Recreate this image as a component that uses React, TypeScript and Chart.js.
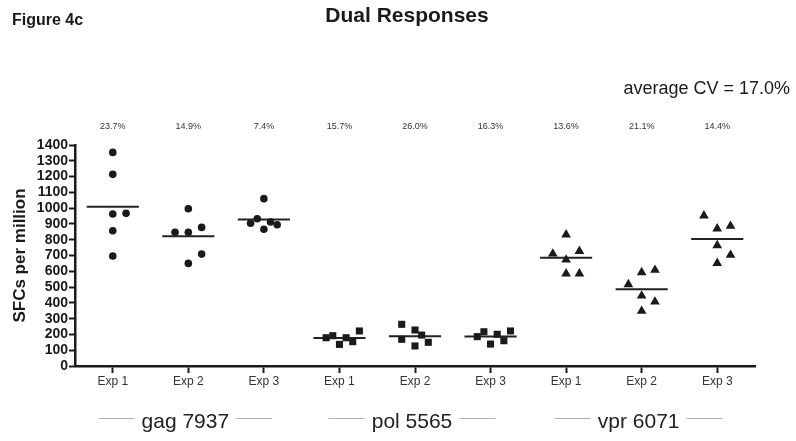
import { useEffect, useRef } from 'react';
import { Chart, registerables } from 'chart.js';

Chart.register(...registerables);

// ---- data ----
const expLabels = ['Exp 1', 'Exp 2', 'Exp 3', 'Exp 1', 'Exp 2', 'Exp 3', 'Exp 1', 'Exp 2', 'Exp 3'];
const cvLabels = ['23.7%', '14.9%', '7.4%', '15.7%', '26.0%', '16.3%', '13.6%', '21.1%', '14.4%'];
const groupNames = ['gag 7937', 'pol 5565', 'vpr 6071'];
const averageCVText = 'average CV = 17.0%';
const figureLabel = 'Figure 4c';
const chartTitle = 'Dual Responses';
const yAxisTitle = 'SFCs per million';

// SFC values per column (6 replicates each)
const gagExp1 = [1353, 1214, 963, 967, 857, 697];
const gagExp2 = [996, 847, 847, 878, 709, 650];
const gagExp3 = [1060, 904, 933, 912, 895, 866];
const polExp1 = [179, 192, 137, 179, 154, 222];
const polExp2 = [264, 169, 228, 196, 150, 127];
const polExp3 = [186, 217, 139, 201, 160, 222];
const vprExp1 = [832, 711, 728, 673, 585, 585];
const vprExp2 = [517, 593, 608, 445, 407, 348];
const vprExp3 = [952, 870, 887, 764, 703, 652];

// horizontal scatter slots of each point within its column
const gagSlots1 = [0, 0, 0, 2, 0, 0];
const gagSlots2 = [0, -2, 0, 2, 2, 0];
const gagSlots3 = [0, -2, -1, 1, 2, 0];
const polSlots1 = [-2, -1, 0, 1, 2, 3];
const polSlots2 = [-2, -2, 0, 1, 2, 0];
const polSlots3 = [-2, -1, 0, 1, 2, 3];
const vprSlots1 = [0, -2, 2, 0, 0, 2];
const vprSlots2 = [-2, 0, 2, 0, 2, 0];
const vprSlots3 = [-2, 0, 2, 0, 2, 0];

// ---- styling constants ----
const SLOT = 0.088; // column units per scatter slot
const MEAN_HALF = 0.345; // half width of mean bar in column units
const FONT = '"Liberation Sans", Arial, sans-serif';
const INK = '#1a1a1a';

const columns = [gagExp1, gagExp2, gagExp3, polExp1, polExp2, polExp3, vprExp1, vprExp2, vprExp3];
const slots = [gagSlots1, gagSlots2, gagSlots3, polSlots1, polSlots2, polSlots3, vprSlots1, vprSlots2, vprSlots3];

function pointsFor(colIdx: number[]) {
  const out: { x: number; y: number }[] = [];
  colIdx.forEach((c) => {
    columns[c].forEach((v, k) => out.push({ x: c + slots[c][k] * SLOT, y: v }));
  });
  return out;
}

function meanLineData() {
  const out: { x: number; y: number | null }[] = [];
  columns.forEach((vals, c) => {
    const m = vals.reduce((a, b) => a + b, 0) / vals.length;
    out.push({ x: c - MEAN_HALF, y: m }, { x: c + MEAN_HALF, y: m }, { x: c + 0.5, y: null });
  });
  return out;
}

const textPlugin = {
  id: 'figureTexts',
  afterDraw(chart: any) {
    const ctx = chart.ctx as CanvasRenderingContext2D;
    const xs = chart.scales.x;
    ctx.save();
    ctx.fillStyle = INK;
    ctx.textBaseline = 'alphabetic';

    ctx.font = `bold 16px ${FONT}`;
    ctx.textAlign = 'left';
    ctx.fillText(figureLabel, 12, 25);

    ctx.font = `bold 21px ${FONT}`;
    ctx.textAlign = 'center';
    ctx.fillText(chartTitle, 407, 22);

    ctx.font = `18px ${FONT}`;
    ctx.textAlign = 'right';
    ctx.fillText(averageCVText, 790, 94);

    ctx.font = `9px ${FONT}`;
    ctx.textAlign = 'center';
    ctx.fillStyle = '#333';
    cvLabels.forEach((t, i) => ctx.fillText(t, xs.getPixelForValue(i), 129));

    ctx.font = `21px ${FONT}`;
    groupNames.forEach((name, g) => {
      const cx = xs.getPixelForValue(g * 3 + 1) - 3;
      const w = ctx.measureText(name).width;
      ctx.fillStyle = '#222';
      ctx.textAlign = 'center';
      ctx.fillText(name, cx, 428);
      ctx.strokeStyle = '#b0b0b0';
      ctx.lineWidth = 1;
      ctx.beginPath();
      ctx.moveTo(cx - w / 2 - 43, 418.5);
      ctx.lineTo(cx - w / 2 - 7, 418.5);
      ctx.moveTo(cx + w / 2 + 7, 418.5);
      ctx.lineTo(cx + w / 2 + 43, 418.5);
      ctx.stroke();
    });
    ctx.restore();
  },
};

export default function App() {
  const ref = useRef<HTMLCanvasElement | null>(null);

  useEffect(() => {
    if (!ref.current) return;
    const chart = new Chart(ref.current, {
      type: 'scatter',
      data: {
        datasets: [
          {
            label: 'gag',
            data: pointsFor([0, 1, 2]),
            pointStyle: 'circle',
            pointRadius: 3.8,
            backgroundColor: INK,
            borderColor: INK,
            borderWidth: 0,
          },
          {
            label: 'pol',
            data: pointsFor([3, 4, 5]),
            pointStyle: 'rect',
            pointRadius: 5,
            backgroundColor: INK,
            borderColor: INK,
            borderWidth: 0,
          },
          {
            label: 'vpr',
            data: pointsFor([6, 7, 8]),
            pointStyle: 'triangle',
            pointRadius: 5.6,
            backgroundColor: INK,
            borderColor: INK,
            borderWidth: 0,
          },
          {
            label: 'mean',
            data: meanLineData(),
            showLine: true,
            spanGaps: false,
            pointRadius: 0,
            borderColor: '#222',
            borderWidth: 2,
          } as any,
        ],
      },
      options: {
        responsive: false,
        animation: false,
        devicePixelRatio: 1,
        layout: { padding: { top: 145, right: 41, bottom: 0, left: 0 } },
        plugins: {
          legend: { display: false },
          tooltip: { enabled: false },
          title: { display: false },
        },
        scales: {
          x: {
            type: 'linear',
            min: -0.5,
            max: 8.5,
            afterBuildTicks: (scale: any) => {
              scale.ticks = expLabels.map((_, i) => ({ value: i }));
            },
            afterFit: (scale: any) => {
              scale.height = 75;
            },
            ticks: {
              autoSkip: false,
              maxRotation: 0,
              padding: 1,
              color: '#333',
              font: { family: FONT, size: 12 },
              callback: (v: any) => expLabels[Math.round(Number(v))] ?? '',
            },
            grid: {
              display: true,
              drawOnChartArea: false,
              drawTicks: true,
              tickLength: 7,
              tickWidth: 2,
              tickColor: INK,
            },
            border: { display: true, width: 2.5, color: INK },
          },
          y: {
            type: 'linear',
            min: 0,
            max: 1400,
            afterFit: (scale: any) => {
              scale.width = 75;
            },
            ticks: {
              stepSize: 100,
              autoSkip: false,
              padding: 1,
              color: INK,
              font: { family: FONT, size: 14, weight: 'bold', lineHeight: 1 },
              callback: (v: any) => String(v),
            },
            grid: {
              display: true,
              drawOnChartArea: false,
              drawTicks: true,
              tickLength: 6,
              tickWidth: 2,
              tickColor: INK,
            },
            border: { display: true, width: 2.5, color: INK },
            title: {
              display: true,
              text: yAxisTitle,
              color: INK,
              font: { family: FONT, size: 17, weight: 'bold' },
              padding: { top: 10, bottom: 0 },
            },
          },
        },
      },
      plugins: [textPlugin],
    });
    return () => chart.destroy();
  }, []);

  return (
    <div style={{ position: 'absolute', left: 0, top: 0, width: 796, height: 441, background: '#fff' }}>
      <canvas ref={ref} width={796} height={441} style={{ display: 'block' }} />
    </div>
  );
}
